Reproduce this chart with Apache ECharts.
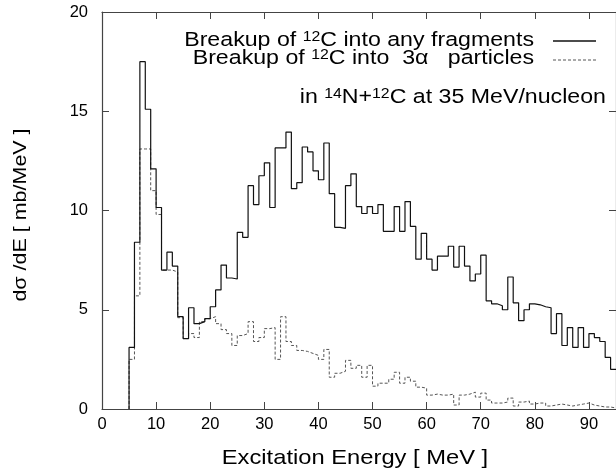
<!DOCTYPE html>
<html><head><meta charset="utf-8">
<script src="https://cdn.jsdelivr.net/npm/echarts@6/dist/echarts.min.js"></script>
<style>html,body{margin:0;padding:0;background:#fff}#c{width:616px;height:472px}</style>
</head><body><div id="c"></div>
<script>
// Histogram bin lower edges (MeV), bin width 1 MeV
const binLow = [5,6,7,8,9,10,11,12,13,14,15,16,17,18,19,20,21,22,23,24,25,26,27,28,29,30,31,32,33,34,35,36,37,38,39,40,41,42,43,44,45,46,47,48,49,50,51,52,53,54,55,56,57,58,59,60,61,62,63,64,65,66,67,68,69,70,71,72,73,74,75,76,77,78,79,80,81,82,83,84,85,86,87,88,89,90,91,92,93,94];
const binWidth = 1;
// Breakup of 12C into any fragments (mb/MeV)
const anyFragments = [3.1,8.4,17.5,15.1,12.1,10.15,7.0,7.9,7.2,4.65,3.55,5.1,4.3,4.4,4.55,5.15,6.0,7.25,6.6,6.55,8.9,8.65,11.25,10.3,11.75,12.4,10.15,13.15,13.15,13.95,11.1,11.4,13.2,12.95,12.0,11.55,13.4,10.85,9.15,9.1,11.25,11.85,10.2,9.85,10.2,9.85,10.3,8.95,8.95,10.2,8.95,10.45,9.2,7.55,8.85,7.55,7.0,7.7,7.7,8.2,7.15,8.2,7.2,6.45,6.8,7.75,5.45,5.3,5.2,5.0,6.65,5.35,4.45,5.0,5.3,5.25,5.15,5.1,3.8,4.8,3.2,4.1,3.1,4.1,3.1,3.8,3.6,3.4,2.6,2.0];
// Breakup of 12C into 3 alpha particles (mb/MeV)
const threeAlpha = [2.5,5.7,13.1,13.1,11.0,9.8,7.0,7.0,6.9,4.6,3.55,3.8,3.6,4.4,4.55,4.65,4.3,4.0,3.8,3.2,3.7,3.8,4.4,3.4,3.6,4.05,4.1,2.5,4.65,3.4,3.2,2.95,2.9,2.8,2.7,2.5,3.0,1.6,1.8,1.9,2.45,2.05,2.2,1.6,2.2,1.15,1.3,1.3,1.5,1.85,1.3,1.6,1.4,1.1,1.05,0.7,0.75,0.7,0.7,0.75,0.2,0.7,0.75,0.85,0.6,0.8,0.45,0.3,0.3,0.35,0.55,0.15,0.35,0.4,0.25,0.3,0.3,0.15,0.2,0.25,0.2,0.15,0.2,0.25,0.3,0.2,0.15,0.1,0.1,0.05];
const xTickValues = [0,10,20,30,40,50,60,70,80,90];
const yTickValues = [0,5,10,15,20];
const xTitle = 'Excitation Energy [ MeV ]';
const yTitle = 'dσ /dE [ mb/MeV ]';

function stepData(vals){
  const d = [[binLow[0], 0]];
  vals.forEach((v,i)=>d.push([binLow[i], v]));
  const n = vals.length - 1;
  d.push([binLow[n] + binWidth, vals[n]]);
  return d;
}

const FONT = 'Liberation Sans, Arial, Helvetica, sans-serif';
const axisCol = '#444';
const SX = 1.13;
function tick(){ return {show:true, inside:true, length:7, lineStyle:{color:axisCol, width:1}}; }
function line(){ return {show:true, onZero:false, lineStyle:{color:axisCol, width:1.2}}; }
const chart = echarts.init(document.getElementById('c'), null, {renderer:'canvas'});
const rich = {
  n:{fontSize:20.5, fontFamily:FONT, fill:'#000', lineHeight:22, verticalAlign:'middle'},
  s:{fontSize:14, fontFamily:FONT, fill:'#000', lineHeight:9, verticalAlign:'top'}
};
// legend / annotation line: right edge x, baseline y
function legendText(x, base, text){
  return {type:'text', z:10, x:x, y:base - 7.2, scaleX:SX, scaleY:1,
    style:{x:0, y:0, align:'right', verticalAlign:'middle', text:text, rich:rich}};
}
chart.setOption({
  animation:false,
  backgroundColor:'#fff',
  grid:{left:102, top:12, width:516, height:397},
  xAxis:[{
    type:'value', min:0, max:95, interval:10, position:'bottom',
    axisLine:line(), axisTick:tick(), splitLine:{show:false},
    axisLabel:{color:'#000', fontSize:16.5, fontFamily:FONT, margin:7, showMaxLabel:false,
      formatter:v=> xTickValues.includes(v) ? String(v) : ''}
  },{
    type:'value', min:0, max:95, interval:10, position:'top',
    axisLine:line(), axisTick:tick(), axisLabel:{show:false}, splitLine:{show:false}
  }],
  yAxis:[{
    type:'value', min:0, max:20, interval:5, position:'left',
    axisLine:line(), axisTick:tick(), splitLine:{show:false},
    axisLabel:{color:'#000', fontSize:16.5, fontFamily:FONT, margin:14,
      formatter:v=> yTickValues.includes(v) ? String(v) : ''}
  },{
    type:'value', min:0, max:20, interval:5, position:'right',
    axisLine:line(), axisTick:tick(), axisLabel:{show:false}, splitLine:{show:false}
  }],
  series:[{
    name:'any', type:'line', step:'end', symbol:'none', data:stepData(anyFragments),
    lineStyle:{color:'#111', width:1.2}, z:3
  },{
    name:'3alpha', type:'line', step:'end', symbol:'none', data:stepData(threeAlpha),
    lineStyle:{color:'#555', width:1, type:[3,2]}, z:2
  }],
  graphic:[
    legendText(534, 48, '{n|Breakup of }{s|12}{n|C into any fragments}'),
    legendText(534, 66, '{n|Breakup of }{s|12}{n|C into  3α   particles}'),
    legendText(606, 105, '{n|in }{s|14}{n|N+}{s|12}{n|C at 35 MeV/nucleon}'),
    {type:'line', z:10, shape:{x1:553, y1:41, x2:596, y2:41}, style:{stroke:'#111', lineWidth:1.3}},
    {type:'line', z:10, shape:{x1:553, y1:60, x2:596, y2:60}, style:{stroke:'#555', lineWidth:1, lineDash:[3,2]}},
    {type:'text', z:10, x:355, y:458, scaleX:SX,
      style:{x:0, y:0, text:xTitle, align:'center', verticalAlign:'middle', fontSize:21, fontFamily:FONT, fill:'#000'}},
    {type:'text', z:10, x:21, y:215, rotation:Math.PI/2, scaleX:SX,
      style:{x:0, y:0, text:yTitle, align:'center', verticalAlign:'middle', fontSize:19, fontFamily:FONT, fill:'#000'}}
  ]
});
</script></body></html>
